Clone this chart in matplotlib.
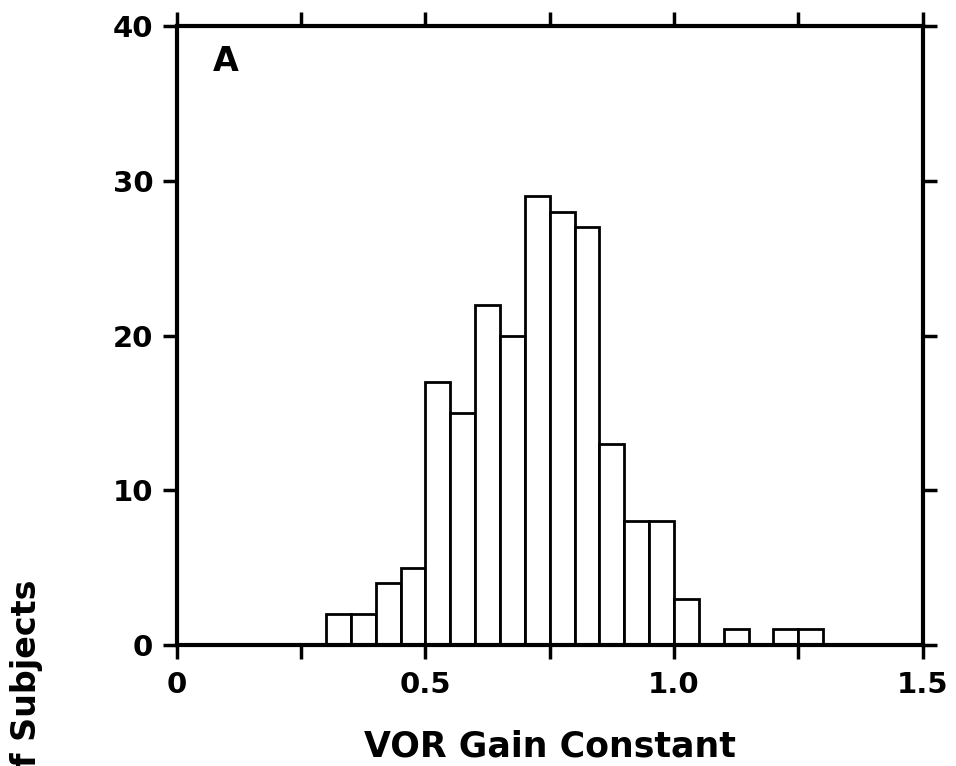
import numpy as np
import matplotlib
matplotlib.use("Agg")
import matplotlib.pyplot as plt

# histogram bins (left edges) and number of subjects per bin
bin_left = [0.30, 0.35, 0.40, 0.45, 0.50, 0.55, 0.60, 0.65, 0.70, 0.75,
            0.80, 0.85, 0.90, 0.95, 1.00, 1.05, 1.10, 1.15, 1.20, 1.25]
counts = [2, 2, 4, 5, 17, 15, 22, 20, 29, 28,
          27, 13, 8, 8, 3, 0, 1, 0, 1, 1]
bin_width = 0.05

x_ticks = [0, 0.5, 1.0, 1.5]
x_labels = ["0", "0.5", "1.0", "1.5"]
x_minor = [0.25, 0.75, 1.25]
y_ticks = [0, 10, 20, 30, 40]

plt.rcParams['font.family'] = ['DejaVu Sans']
plt.rcParams['font.weight'] = 'bold'

fig = plt.figure(figsize=(9.56, 7.66), dpi=100)
ax = fig.add_axes([0.185, 0.158, 0.78, 0.808])

ax.bar(bin_left, counts, width=bin_width, align='edge',
       facecolor='white', edgecolor='black', linewidth=2.0, zorder=2)

ax.set_xlim(0, 1.5)
ax.set_ylim(0, 40)

ax.set_xticks(x_ticks)
ax.set_xticklabels(x_labels)
ax.set_xticks(x_minor, minor=True)
ax.set_yticks(y_ticks)

for s in ax.spines.values():
    s.set_linewidth(3)
    s.set_zorder(3)

ax.tick_params(axis='both', which='both', direction='out', length=10, width=2.5,
               top=True, right=True, labelsize=21, pad=7)
ax.tick_params(axis='x', which='both', pad=9)
for lab in ax.get_xticklabels() + ax.get_yticklabels():
    lab.set_fontweight('bold')

ax.set_xlabel("VOR Gain Constant", fontsize=25, fontweight='bold', labelpad=22)

# y label is partly cut off at the bottom edge of the figure
fig.text(0.028, 0.243, "Number of Subjects", rotation=90, ha='center', va='top',
         fontsize=24, fontweight='bold')

ax.text(0.066, 0.942, "A", transform=ax.transAxes, ha='center', va='center',
        fontsize=24, fontweight='bold')

fig.savefig("out.png", dpi=100)
